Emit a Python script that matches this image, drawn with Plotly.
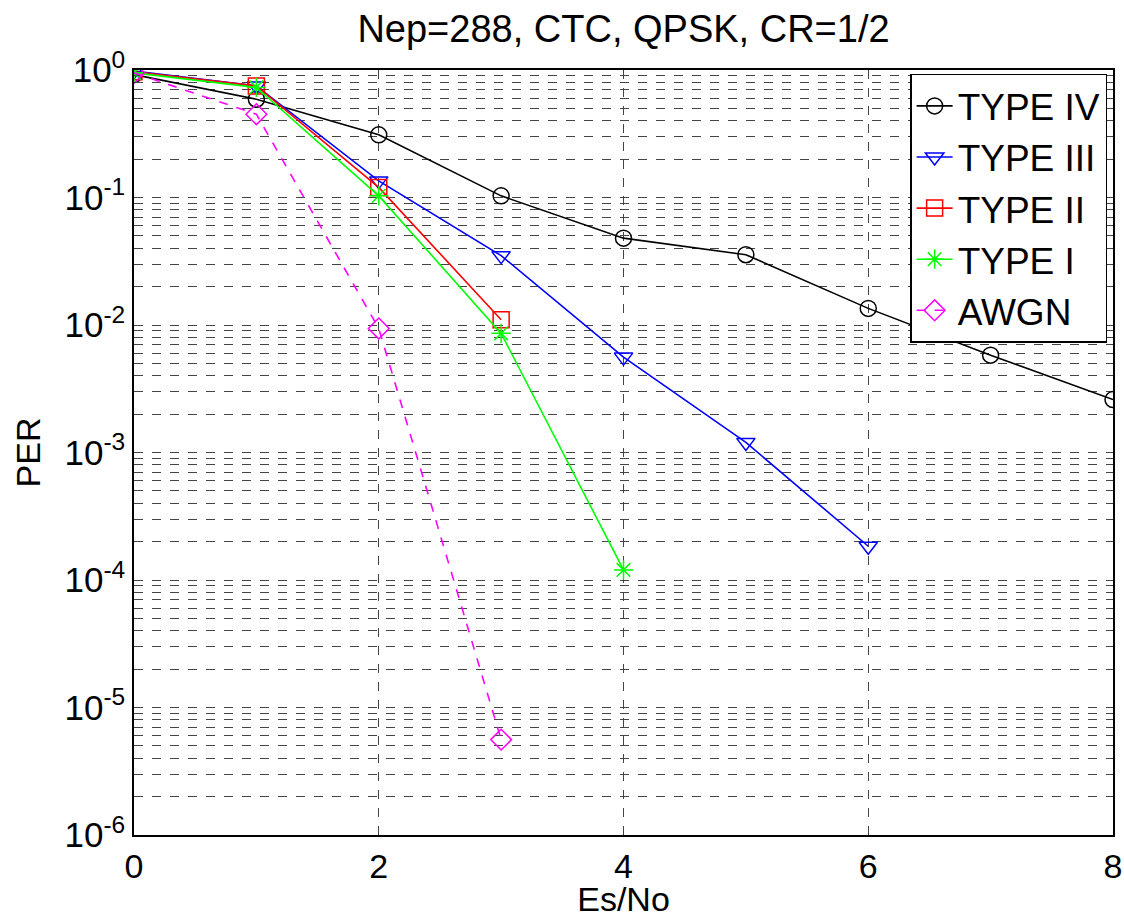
# PER vs Es/No curves for Nep=288, CTC, QPSK, CR=1/2

import plotly.graph_objects as go

es_no_iv = [0, 1, 2, 3, 4, 5, 6, 7, 8]
per_iv = [0.92, 0.59, 0.31, 0.103, 0.048, 0.0356, 0.0135, 0.0058, 0.0026]

es_no_iii = [0, 1, 2, 3, 4, 5, 6]
per_iii = [0.98, 0.75, 0.135, 0.035, 0.0056, 0.0012, 1.84e-4]

es_no_ii = [0, 1, 2, 3]
per_ii = [0.97, 0.75, 0.12, 0.011]

es_no_i = [0, 1, 2, 3, 4]
per_i = [0.95, 0.73, 0.103, 0.0086, 1.2e-4]

es_no_awgn = [0, 1, 2, 3]
per_awgn = [0.95, 0.45, 0.0094, 5.6e-6]

x_ticks = [0, 2, 4, 6, 8]
y_exps = [0, -1, -2, -3, -4, -5, -6]

fnt = "Liberation Sans, Arial, sans-serif"

fig = go.Figure()

def add_curve(x, y, name, color, symbol, dash="solid"):
    fig.add_trace(go.Scatter(
        x=x, y=y, name=name, mode="lines+markers",
        line=dict(color=color, width=1.6, dash=dash),
        marker=dict(symbol=symbol, size=16, color=color,
                    line=dict(color=color, width=1.5)),
    ))

add_curve(es_no_iv, per_iv, "TYPE IV", "black", "circle-open")
add_curve(es_no_iii, per_iii, "TYPE III", "#0000ff", "triangle-down-open")
add_curve(es_no_ii, per_ii, "TYPE II", "#ff0000", "square-open")
add_curve(es_no_i, per_i, "TYPE I", "#00ff00", "asterisk-open")
add_curve(es_no_awgn, per_awgn, "AWGN", "#ff00ff", "diamond-open", dash="dash")

minor_vals = [m * 10.0 ** e for e in range(-6, 0) for m in range(2, 10)]

fig.update_layout(
    width=1124, height=918,
    paper_bgcolor="white", plot_bgcolor="white",
    margin=dict(l=134, r=11, t=70, b=83, autoexpand=False),
    font=dict(family=fnt, color="black", size=34),
    title=dict(text="Nep=288, CTC, QPSK, CR=1/2", x=0.5, xref="paper",
               xanchor="center", y=0.969, yanchor="middle",
               font=dict(size=38)),
    legend=dict(x=0.994, y=0.995, xanchor="right", yanchor="top",
                bgcolor="white", bordercolor="black", borderwidth=1.5,
                font=dict(size=37), itemwidth=36, tracegroupgap=0),
    showlegend=True,
)

fig.update_xaxes(
    range=[0, 8], tickvals=x_ticks, ticks="inside", ticklen=8,
    showline=True, linecolor="black", linewidth=1.5, mirror=True,
    showgrid=True, gridcolor="#444", griddash="dash", gridwidth=1,
    zeroline=False, tickfont=dict(size=34), automargin=False,
    title=dict(text="Es/No", font=dict(size=34), standoff=0),
)

fig.update_yaxes(
    type="log", range=[-6, 0],
    tickvals=[10.0 ** e for e in y_exps],
    ticktext=["10<sup>%d</sup>" % e for e in y_exps],
    ticks="inside", ticklen=8,
    showline=True, linecolor="black", linewidth=1.5, mirror=True,
    showgrid=True, gridcolor="#444", griddash="dash", gridwidth=1,
    minor=dict(tickvals=minor_vals, showgrid=True, gridcolor="#444",
               griddash="dash", gridwidth=1, ticks="inside", ticklen=5),
    zeroline=False, tickfont=dict(size=35), automargin=False,
    title=dict(text="PER", font=dict(size=34), standoff=14),
)

# la página trae 8px de margen en body; se quita para que coincida el encuadre
fig.write_html("out.html", config={"displayModeBar": False},
               post_script="document.body.style.margin='0';")
